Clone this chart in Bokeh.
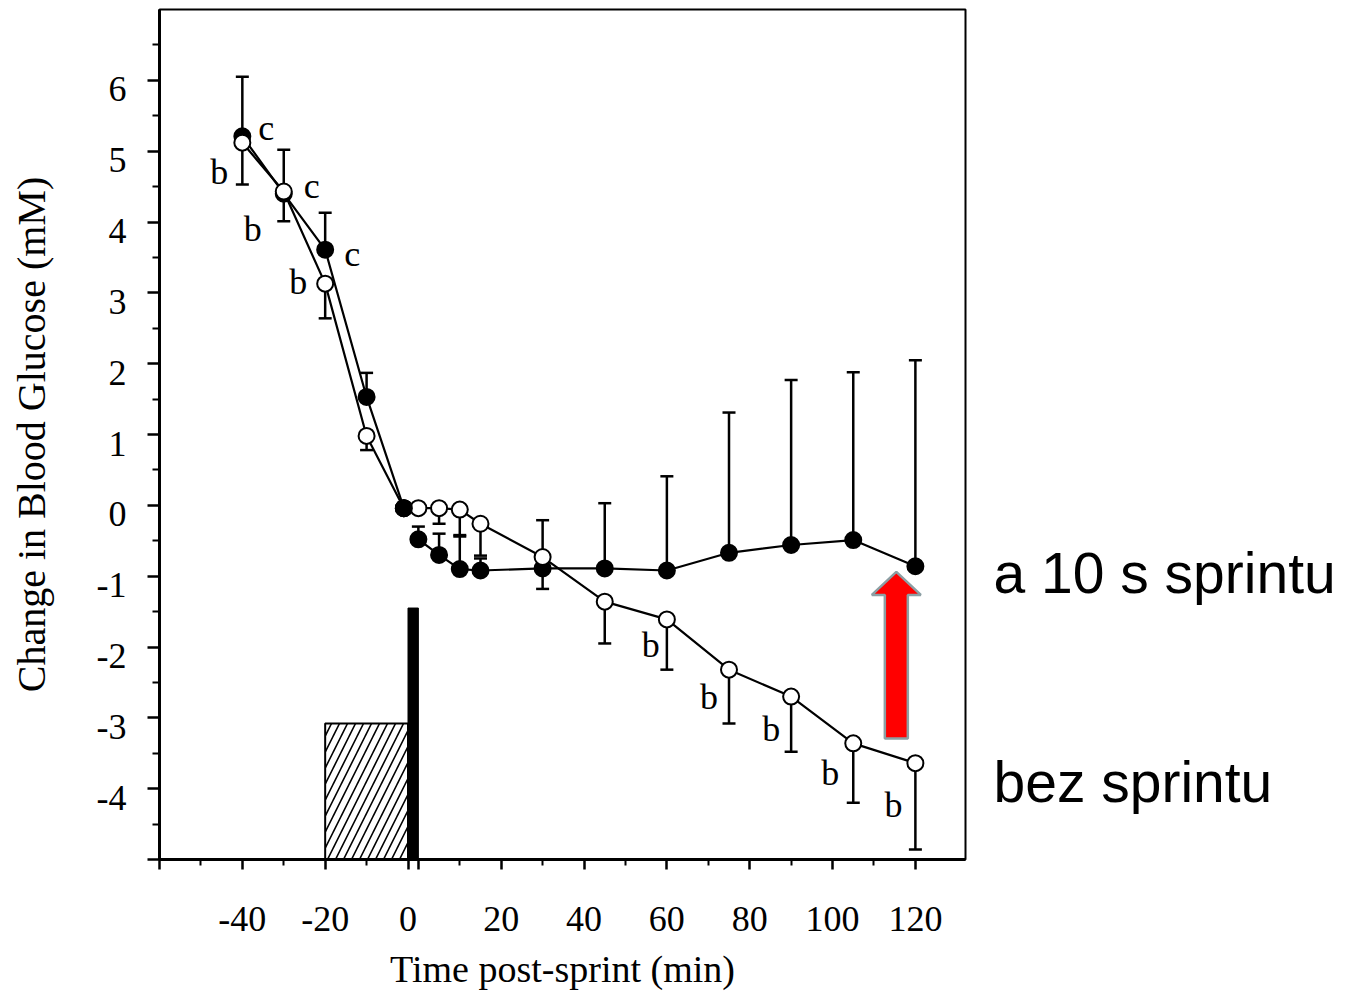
from bokeh.plotting import figure
from bokeh.models import FixedTicker, Whisker, TeeHead, ColumnDataSource, LinearAxis, Range1d
from bokeh.layouts import row
from bokeh.embed import file_html
from bokeh.resources import INLINE
from bokeh.core.properties import value

# ---------------- data ----------------
time_pre = [-40, -30, -20, -10, -1]                      # min, before the sprint
time_post = [0, 5, 10, 15, 30, 45, 60, 75, 90, 105, 120]  # min, after the sprint

sprint_pre = [5.21, 4.40, 3.61, 1.53, -0.04]
sprint_post = [-0.48, -0.70, -0.90, -0.92, -0.89, -0.89, -0.92, -0.67, -0.56, -0.49, -0.86]
sprint_err_pre = [0.84, 0.62, 0.52, 0.34, 0.0]
sprint_err_post = [0.18, 0.30, 0.48, 0.17, 0.68, 0.92, 1.33, 1.98, 2.33, 2.37, 2.91]

nosprint_pre = [5.12, 4.43, 3.13, 0.98, -0.04]
nosprint_post = [-0.04, -0.04, -0.06, -0.26, -0.73, -1.36, -1.61, -2.32, -2.70, -3.36, -3.64]
nosprint_err_pre = [0.59, 0.42, 0.49, 0.20, 0.0]
nosprint_err_post = [0.0, 0.22, 0.38, 0.45, 0.45, 0.59, 0.71, 0.76, 0.78, 0.84, 1.22]

x_tick_labels = [-40, -20, 0, 20, 40, 60, 80, 100, 120]
y_tick_labels = [-4, -3, -2, -1, 0, 1, 2, 3, 4, 5, 6]

exercise_window = [-20, 0]     # hatched block (min)
exercise_level = -3.08
sprint_level = -1.45

c_times = [-40, -30, -20]            # "c" marks on sprint series
b_pre_times = [-40, -30, -20]        # "b" marks on no-sprint series
b_post_times = [60, 75, 90, 105, 120]

arrow_time = 115.4
arrow_from = -3.29
arrow_to = -0.94

label_sprint = "a 10 s sprintu"
label_nosprint = "bez sprintu"

# ---------------- geometry ----------------
SPRINT_GAP = 2.5   # axis break for the 10 s sprint
X_START, X_END = -60, 134.6
Y_START, Y_END = -5, 7
W, H = 1348, 994
ML, MR, MT, MB = 159, 4, 9, 135
FW = 806
FH = H - MT - MB
PW = ML + FW + MR
XPX = FW / (X_END - X_START)
YPX = FH / (Y_END - Y_START)
LABEL_SHIFT = -9 / YPX   # y tick labels sit a little below their ticks


def pre_x(t):
    return t


def post_x(t):
    return t + SPRINT_GAP


SERIF = "Liberation Serif"

p = figure(width=PW, height=H, x_range=(X_START, X_END), y_range=(Y_START, Y_END),
           output_backend="svg", toolbar_location=None)
p.min_border_left = ML
p.min_border_right = MR
p.min_border_top = MT
p.min_border_bottom = MB
p.grid.visible = False
p.outline_line_color = "black"
p.outline_line_width = 2
p.background_fill_color = "white"
p.border_fill_color = "white"

# ---- x axis ----
x_major = [-60, -40, -20, 0, post_x(0)] + [post_x(t) for t in x_tick_labels if t > 0]
x_minor = [-50, -30, -10] + [post_x(t) for t in (10, 30, 50, 70, 90, 110)]
p.xaxis.ticker = FixedTicker(ticks=x_major, minor_ticks=x_minor)
overrides = {-60: "", post_x(0): ""}
for t in x_tick_labels:
    overrides[pre_x(t) if t <= 0 else post_x(t)] = str(t)
p.xaxis.major_label_overrides = overrides

# ---- y axis (ticks) ----
y_major = [-5] + y_tick_labels
y_minor = [v + 0.5 for v in range(-5, 7)]
p.yaxis.ticker = FixedTicker(ticks=y_major, minor_ticks=y_minor)
p.yaxis.major_label_overrides = {v: "" for v in y_major}

for ax in (p.xaxis[0], p.yaxis[0]):
    ax.axis_line_width = 3
    ax.axis_line_color = "black"
    ax.major_tick_line_width = 2.5
    ax.minor_tick_line_width = 2
    ax.major_tick_line_color = "black"
    ax.minor_tick_line_color = "black"
    ax.major_tick_in = 0
    ax.minor_tick_in = 0
    ax.major_label_text_font = SERIF
    ax.major_label_text_font_size = "36px"
    ax.major_label_text_color = "black"

p.xaxis.major_tick_out = 10
p.xaxis.minor_tick_out = 6
p.xaxis.major_label_standoff = 37
p.xaxis.axis_label = "Time post-sprint (min)"
p.xaxis.axis_label_standoff = 14
p.xaxis.axis_label_text_font = SERIF
p.xaxis.axis_label_text_font_style = "normal"
p.xaxis.axis_label_text_font_size = "38px"
p.xaxis.axis_label_text_color = "black"

p.yaxis.major_tick_out = 12
p.yaxis.minor_tick_out = 7
p.yaxis.major_label_standoff = 0

# ---- y axis (labels, a little below their ticks) ----
shifted = [v + LABEL_SHIFT for v in y_tick_labels]
ylab = LinearAxis(ticker=FixedTicker(ticks=shifted, minor_ticks=[]),
                  major_label_overrides={s: str(v) for s, v in zip(shifted, y_tick_labels)},
                  axis_line_color=None, major_tick_line_color=None, minor_tick_line_color=None,
                  major_tick_out=0, minor_tick_out=0, major_tick_in=0, minor_tick_in=0,
                  major_label_standoff=21, major_label_text_font=SERIF,
                  major_label_text_font_size="36px", major_label_text_color="black",
                  axis_label="Change in Blood Glucose (mM)", axis_label_text_font=SERIF,
                  axis_label_text_font_style="normal", axis_label_text_font_size="40px",
                  axis_label_text_color="black", axis_label_standoff=40)
p.add_layout(ylab, "left")

# ---- exercise block and sprint bar ----
p.quad(left=exercise_window[0], right=exercise_window[1], bottom=Y_START, top=exercise_level,
       fill_color="white", hatch_pattern="/", hatch_color="black", hatch_scale=16,
       hatch_weight=1.6, line_color="black", line_width=2)
p.quad(left=pre_x(0), right=post_x(0), bottom=Y_START, top=sprint_level,
       fill_color="black", line_color="black", line_width=1)

# ---- error bars ----
def whisker_source(times, vals, errs, mapper, up):
    xs, lo, hi = [], [], []
    for t, v, e in zip(times, vals, errs):
        if e <= 0:
            continue
        xs.append(mapper(t))
        if up:
            lo.append(v)
            hi.append(v + e)
        else:
            lo.append(v - e)
            hi.append(v)
    return ColumnDataSource(dict(x=xs, lower=lo, upper=hi))


def add_whiskers(src, up):
    head = TeeHead(size=13, line_width=2.5, line_color="black")
    w = Whisker(base="x", lower="lower", upper="upper", source=src, dimension="height",
                line_width=2.5, line_color="black", level="underlay",
                upper_head=head if up else None, lower_head=None if up else head)
    p.add_layout(w)


for times, vals, errs, mapper in ((time_pre, sprint_pre, sprint_err_pre, pre_x),
                                   (time_post, sprint_post, sprint_err_post, post_x)):
    add_whiskers(whisker_source(times, vals, errs, mapper, True), True)
for times, vals, errs, mapper in ((time_pre, nosprint_pre, nosprint_err_pre, pre_x),
                                   (time_post, nosprint_post, nosprint_err_post, post_x)):
    add_whiskers(whisker_source(times, vals, errs, mapper, False), False)

# ---- lines and markers ----
pre_xs = [pre_x(t) for t in time_pre]
post_xs = [post_x(t) for t in time_post]

p.line(pre_xs + post_xs[:1], nosprint_pre + nosprint_post[:1], line_color="black", line_width=2.2)
p.line(post_xs, nosprint_post, line_color="black", line_width=2.2)
p.line(pre_xs, sprint_pre, line_color="black", line_width=2.2)
p.line(post_xs, sprint_post, line_color="black", line_width=2.2)

p.scatter(pre_xs + post_xs, sprint_pre + sprint_post, marker="circle", size=16,
          fill_color="black", line_color="black", line_width=2)
p.scatter(pre_xs + post_xs, nosprint_pre + nosprint_post, marker="circle", size=16,
          fill_color="white", line_color="black", line_width=2)
# the last pre-sprint sprint-trial point lies on top of the open one
p.scatter(pre_xs[-1:], sprint_pre[-1:], marker="circle", size=16,
          fill_color="black", line_color="black", line_width=2)

# ---- significance letters ----
c_off = [(24, -8), (28, -8), (27, 4)]
b_pre_off = [(-23, 29), (-31, 37), (-27, -2)]
b_post_off = [(-16, 26), (-20, 27), (-20, 32), (-23, 30), (-22, 42)]

lx, ly, lt, ox, oy = [], [], [], [], []
for t, (dx, dy) in zip(c_times, c_off):
    lx.append(pre_x(t)); ly.append(sprint_pre[time_pre.index(t)]); lt.append("c")
    ox.append(dx); oy.append(dy)
for t, (dx, dy) in zip(b_pre_times, b_pre_off):
    lx.append(pre_x(t)); ly.append(nosprint_pre[time_pre.index(t)]); lt.append("b")
    ox.append(dx); oy.append(dy)
for t, (dx, dy) in zip(b_post_times, b_post_off):
    lx.append(post_x(t)); ly.append(nosprint_post[time_post.index(t)]); lt.append("b")
    ox.append(dx); oy.append(dy)
letters = ColumnDataSource(dict(x=lx, y=ly, text=lt, xo=ox, yo=oy))
p.text(x="x", y="y", text="text", x_offset="xo", y_offset="yo", source=letters,
       text_font=value(SERIF), text_font_size="36px", text_color="black",
       text_align="center", text_baseline="middle")

# ---- red arrow ----
cx = post_x(arrow_time)
sw = 11.5 / XPX
hw = 24.5 / XPX
hb = arrow_to - 23 / YPX
p.patch([cx - sw, cx - sw, cx - hw, cx, cx + hw, cx + sw, cx + sw],
        [arrow_from, hb, hb, arrow_to, hb, hb, arrow_from],
        fill_color="#ff0000", line_color="#8c9fa4", line_width=2.5)

# ---- right-hand labels (separate panel sharing the y range) ----
RW = W - PW
q = figure(width=RW, height=H, x_range=Range1d(0, RW), y_range=p.y_range,
           output_backend="svg", toolbar_location=None)
q.min_border_left = 0
q.min_border_right = 0
q.min_border_top = MT
q.min_border_bottom = MB
q.axis.visible = False
q.grid.visible = False
q.outline_line_color = None
q.background_fill_color = "white"
q.border_fill_color = "white"
q.text(x=[24, 24], y=[-0.95, -3.9], text=[label_sprint, label_nosprint],
       text_font=value("Liberation Sans"), text_font_size="57px", text_color="black",
       text_align="left", text_baseline="middle")

layout = row(p, q, spacing=0)
open("out.html", "w").write(file_html(layout, INLINE))
